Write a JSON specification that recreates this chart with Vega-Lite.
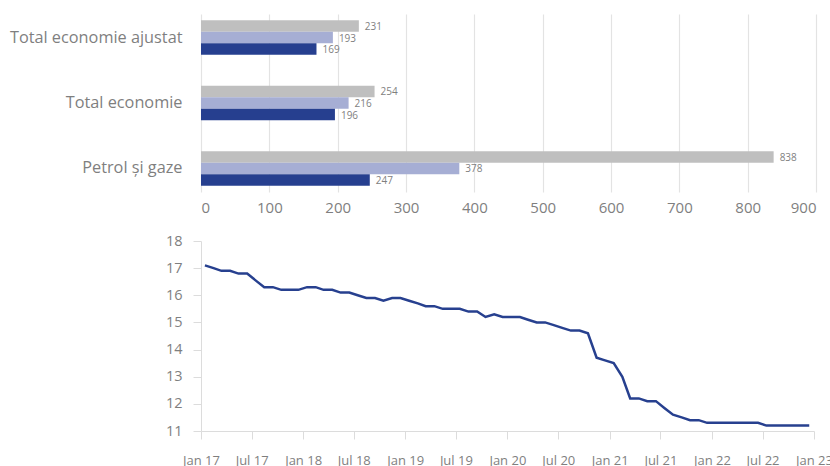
{
  "$schema": "https://vega.github.io/schema/vega-lite/v6.json",
  "background": "white",
  "padding": {"left": 9, "top": 14, "right": 0, "bottom": 0},
  "config": {"view": {"stroke": null}, "font": "Open Sans", "concat": {"spacing": 18}},
  "vconcat": [
    {
      "width": 615,
      "height": 178,
      "data": {"values": [
        {"categorie": "Total economie ajustat", "serie": "A", "valoare": 231},
        {"categorie": "Total economie ajustat", "serie": "B", "valoare": 193},
        {"categorie": "Total economie ajustat", "serie": "C", "valoare": 169},
        {"categorie": "Total economie", "serie": "A", "valoare": 254},
        {"categorie": "Total economie", "serie": "B", "valoare": 216},
        {"categorie": "Total economie", "serie": "C", "valoare": 196},
        {"categorie": "Petrol și gaze", "serie": "A", "valoare": 838},
        {"categorie": "Petrol și gaze", "serie": "B", "valoare": 378},
        {"categorie": "Petrol și gaze", "serie": "C", "valoare": 247}
      ]},
      "encoding": {
        "y": {"field": "categorie", "type": "nominal", "sort": null,
              "scale": {"paddingInner": 0.47, "paddingOuter": 0.094},
              "axis": {"title": null, "domain": false, "ticks": false, "labelFontSize": 16.3, "labelColor": "#7f7f7f", "labelPadding": 19}},
        "yOffset": {"field": "serie", "type": "nominal", "sort": ["A", "B", "C"]},
        "x": {"field": "valoare", "type": "quantitative",
              "scale": {"domain": [0, 900], "nice": false},
              "axis": {"title": null, "values": [0,100,200,300,400,500,600,700,800,900], "domain": false, "ticks": false, "grid": true, "gridColor": "#e3e3e3", "gridWidth": 1.2, "labelFontSize": 15, "labelColor": "#7f7f7f", "labelPadding": 8}}
      },
      "layer": [
        {"mark": {"type": "bar"},
         "encoding": {"color": {"field": "serie", "type": "nominal", "legend": null,
                                "scale": {"domain": ["A", "B", "C"], "range": ["#bfbfbf", "#a6aed4", "#263f8f"]}}}},
        {"mark": {"type": "text", "align": "left", "baseline": "middle", "dx": 6, "dy": 1, "fontSize": 10, "color": "#7f7f7f"},
         "encoding": {"text": {"field": "valoare", "type": "quantitative"}}}
      ]
    },
    {
      "width": 613,
      "height": 190,
      "data": {"values": [
        {"data": "2017-01-15", "valoare": 17.1}, {"data": "2017-02-15", "valoare": 17.0}, {"data": "2017-03-15", "valoare": 16.9}, {"data": "2017-04-15", "valoare": 16.9},
        {"data": "2017-05-15", "valoare": 16.8}, {"data": "2017-06-15", "valoare": 16.8}, {"data": "2017-07-15", "valoare": 16.55}, {"data": "2017-08-15", "valoare": 16.3},
        {"data": "2017-09-15", "valoare": 16.3}, {"data": "2017-10-15", "valoare": 16.2}, {"data": "2017-11-15", "valoare": 16.2}, {"data": "2017-12-15", "valoare": 16.2},
        {"data": "2018-01-15", "valoare": 16.3}, {"data": "2018-02-15", "valoare": 16.3}, {"data": "2018-03-15", "valoare": 16.2}, {"data": "2018-04-15", "valoare": 16.2},
        {"data": "2018-05-15", "valoare": 16.1}, {"data": "2018-06-15", "valoare": 16.1}, {"data": "2018-07-15", "valoare": 16.0}, {"data": "2018-08-15", "valoare": 15.9},
        {"data": "2018-09-15", "valoare": 15.9}, {"data": "2018-10-15", "valoare": 15.8}, {"data": "2018-11-15", "valoare": 15.9}, {"data": "2018-12-15", "valoare": 15.9},
        {"data": "2019-01-15", "valoare": 15.8}, {"data": "2019-02-15", "valoare": 15.7}, {"data": "2019-03-15", "valoare": 15.6}, {"data": "2019-04-15", "valoare": 15.6},
        {"data": "2019-05-15", "valoare": 15.5}, {"data": "2019-06-15", "valoare": 15.5}, {"data": "2019-07-15", "valoare": 15.5}, {"data": "2019-08-15", "valoare": 15.4},
        {"data": "2019-09-15", "valoare": 15.4}, {"data": "2019-10-15", "valoare": 15.2}, {"data": "2019-11-15", "valoare": 15.3}, {"data": "2019-12-15", "valoare": 15.2},
        {"data": "2020-01-15", "valoare": 15.2}, {"data": "2020-02-15", "valoare": 15.2}, {"data": "2020-03-15", "valoare": 15.1}, {"data": "2020-04-15", "valoare": 15.0},
        {"data": "2020-05-15", "valoare": 15.0}, {"data": "2020-06-15", "valoare": 14.9}, {"data": "2020-07-15", "valoare": 14.8}, {"data": "2020-08-15", "valoare": 14.7},
        {"data": "2020-09-15", "valoare": 14.7}, {"data": "2020-10-15", "valoare": 14.6}, {"data": "2020-11-15", "valoare": 13.7}, {"data": "2020-12-15", "valoare": 13.6},
        {"data": "2021-01-15", "valoare": 13.5}, {"data": "2021-02-15", "valoare": 13.0}, {"data": "2021-03-15", "valoare": 12.2}, {"data": "2021-04-15", "valoare": 12.2},
        {"data": "2021-05-15", "valoare": 12.1}, {"data": "2021-06-15", "valoare": 12.1}, {"data": "2021-07-15", "valoare": 11.85}, {"data": "2021-08-15", "valoare": 11.6},
        {"data": "2021-09-15", "valoare": 11.5}, {"data": "2021-10-15", "valoare": 11.4}, {"data": "2021-11-15", "valoare": 11.4}, {"data": "2021-12-15", "valoare": 11.3},
        {"data": "2022-01-15", "valoare": 11.3}, {"data": "2022-02-15", "valoare": 11.3}, {"data": "2022-03-15", "valoare": 11.3}, {"data": "2022-04-15", "valoare": 11.3},
        {"data": "2022-05-15", "valoare": 11.3}, {"data": "2022-06-15", "valoare": 11.3}, {"data": "2022-07-15", "valoare": 11.2}, {"data": "2022-08-15", "valoare": 11.2},
        {"data": "2022-09-15", "valoare": 11.2}, {"data": "2022-10-15", "valoare": 11.2}, {"data": "2022-11-15", "valoare": 11.2}, {"data": "2022-12-15", "valoare": 11.2}
      ]},
      "mark": {"type": "line", "color": "#27408f", "strokeWidth": 2.5},
      "encoding": {
        "x": {"field": "data", "type": "temporal",
              "scale": {"domain": ["2017-01-01", "2023-01-01"], "nice": false},
              "axis": {"title": null, "format": "%b %y", "tickCount": {"interval": "month", "step": 6}, "grid": false, "domainColor": "#dcdcdc", "tickColor": "#dcdcdc", "tickSize": 8, "labelFontSize": 13, "labelColor": "#7f7f7f", "labelPadding": 15, "labelFlush": false, "labelOverlap": false}},
        "y": {"field": "valoare", "type": "quantitative",
              "scale": {"domain": [11, 18], "nice": false, "zero": false},
              "axis": {"title": null, "values": [11,12,13,14,15,16,17,18], "grid": false, "domainColor": "#dcdcdc", "tickColor": "#dcdcdc", "tickSize": 8, "labelFontSize": 14.5, "labelColor": "#7f7f7f", "labelPadding": 11}}
      }
    }
  ]
}
